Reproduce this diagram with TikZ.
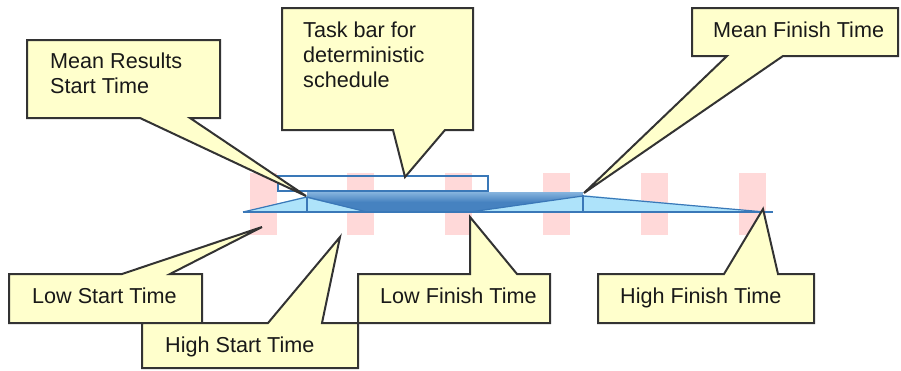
\documentclass[tikz,border=0pt]{standalone}
\usepackage{fontspec}
\setmainfont{Liberation Sans}
\definecolor{callfill}{HTML}{FFFFCC}
\definecolor{callline}{HTML}{333333}
\definecolor{pinkc}{HTML}{FFD9D9}
\definecolor{barline}{HTML}{3A78B8}
\definecolor{lightb}{HTML}{AEE3FA}
\definecolor{darkb}{HTML}{4682C0}
\definecolor{darktop}{HTML}{86B4DE}
\begin{document}
\begin{tikzpicture}[x=1pt,y=-1pt,
  callout/.style={fill=callfill,draw=callline,line width=2pt,line join=miter},
  lbl/.style={anchor=base west,inner sep=0pt,font=\fontsize{21.6}{25}\selectfont,text=black!90,align=left},
  barstroke/.style={draw=barline,line width=1.2pt}]
\useasboundingbox (0,0) rectangle (901,370);
% pink columns
\foreach \x in {250,347,445,543,641,739}
  \fill[pinkc] (\x,173) rectangle ++(27,62);
% distribution
\fill[lightb] (243,212) -- (307,196) -- (583,195) -- (765,212) -- cycle;
\shade[top color=darktop,bottom color=darkb,middle color=darkb]
  (307,192) -- (583,192) -- (583,196) -- (470,212) -- (367,212) -- (307,198) -- cycle;
\draw[barstroke] (243,212) -- (307,197) -- (367,212);
\draw[barstroke] (470,212) -- (583,196) -- (765,212);
\draw[barstroke] (307,197) -- (307,212);
\draw[barstroke] (583,195) -- (583,212);
\draw[barstroke] (243,212) -- (773,212);
% deterministic task bar
\draw[draw=barline,line width=1.4pt] (278,176) rectangle (488,191);
% callout tips
\coordinate (tMRS) at (306,196);
\coordinate (tTB) at (405,177);
\coordinate (tMFT) at (584,193);
\coordinate (tLST) at (262,227);
\coordinate (tHST) at (340,237);
\coordinate (tLFT) at (470,217);
\coordinate (tHFT) at (763,209);
% callouts
\draw[callout] (27,40) -- (220,40) -- (220,118) -- (190,118) -- (tMRS) -- (140,118) -- (27,118) -- cycle;
\node[lbl] (mrs) at (50,93) {Mean Results\\Start Time};
\draw[callout] (282,8) -- (473,8) -- (473,130) -- (445,130) -- (tTB) -- (393,130) -- (282,130) -- cycle;
\node[lbl] (tb) at (303,87) {Task bar for\\deterministic\\schedule};
\draw[callout] (692,8) -- (898,8) -- (898,56) -- (783,56) -- (tMFT) -- (727,56) -- (692,56) -- cycle;
\node[lbl] (mft) at (713,37) {Mean Finish Time};
\draw[callout] (9,274) -- (122,274) -- (tLST) -- (170,274) -- (202,274) -- (202,323) -- (9,323) -- cycle;
\node[lbl] (lst) at (32,303) {Low Start Time};
\draw[callout] (142,323) -- (268,323) -- (tHST) -- (322,323) -- (358,323) -- (358,368) -- (142,368) -- cycle;
\node[lbl] (hst) at (165,352) {High Start Time};
\draw[callout] (358,274) -- (470,274) -- (tLFT) -- (517,274) -- (550,274) -- (550,323) -- (358,323) -- cycle;
\node[lbl] (lft) at (380,303) {Low Finish Time};
\draw[callout] (598,274) -- (724,274) -- (tHFT) -- (778,274) -- (814,274) -- (814,323) -- (598,323) -- cycle;
\node[lbl] (hft) at (620,303) {High Finish Time};
\end{tikzpicture}
\end{document}
